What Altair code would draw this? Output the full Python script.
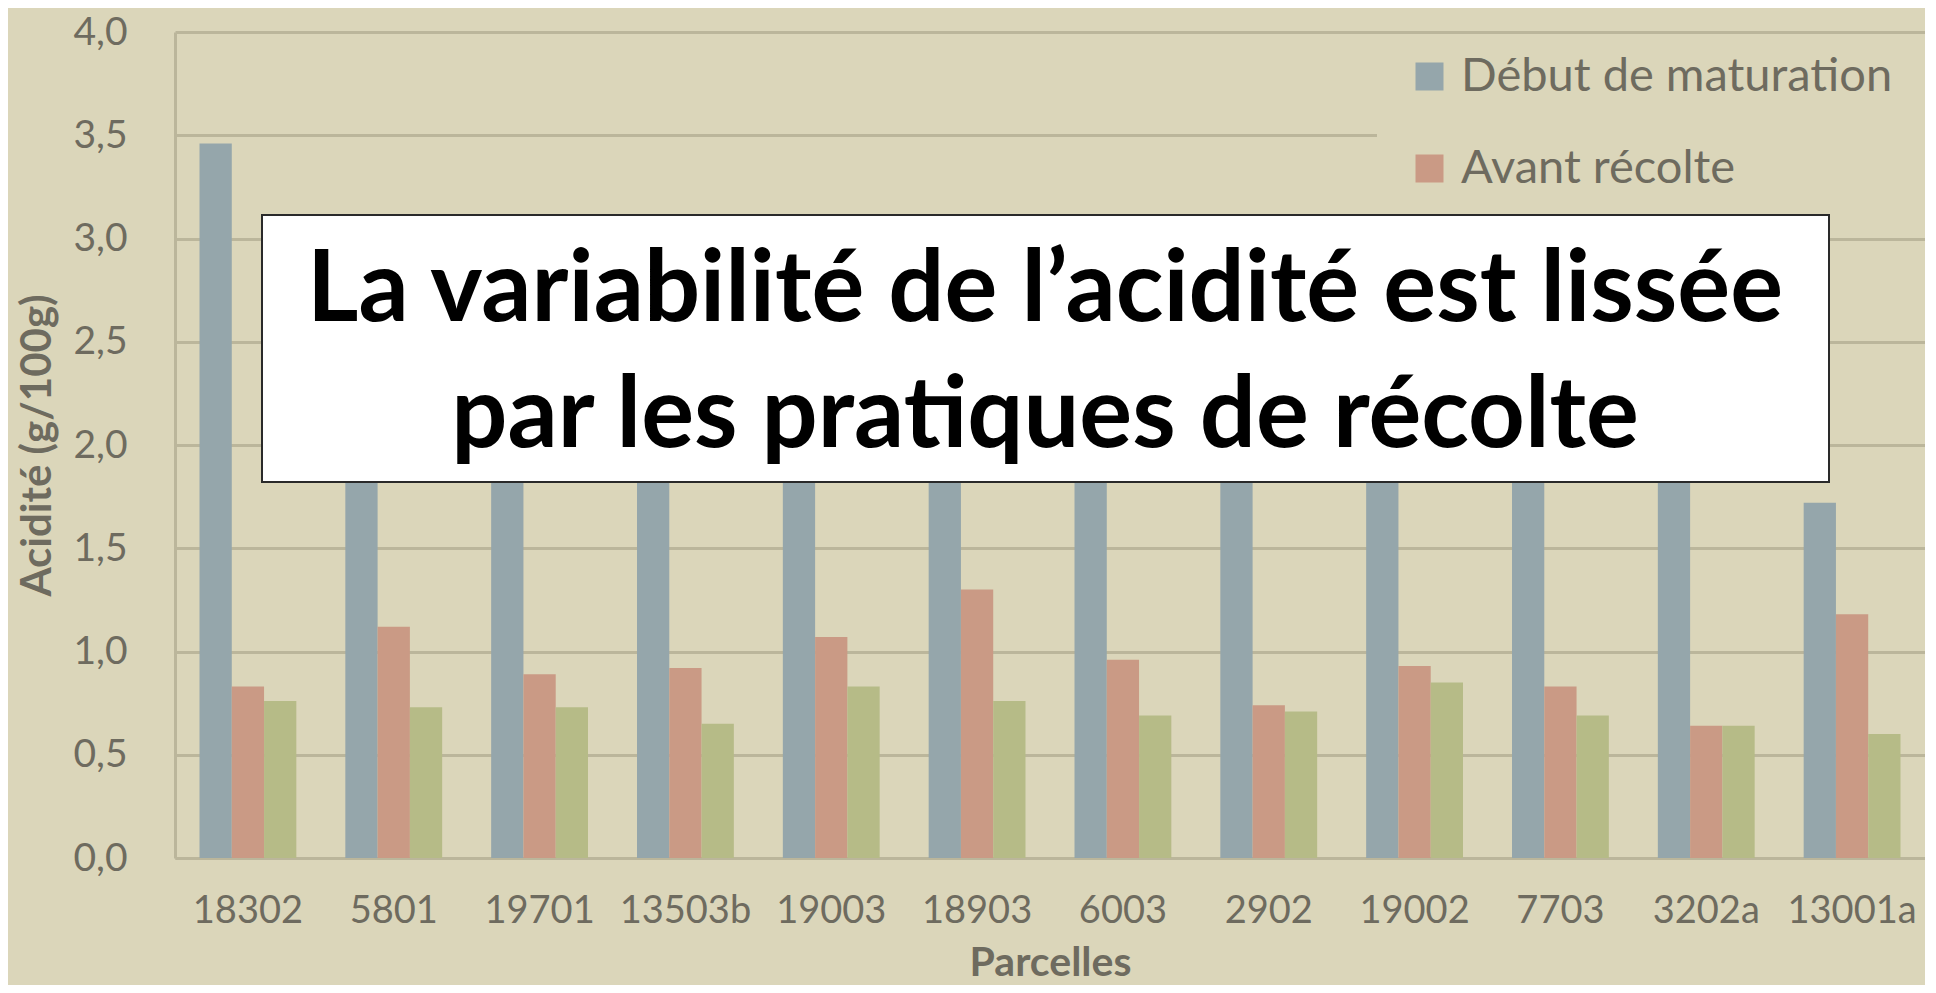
import altair as alt
import pandas as pd

parcelles = ["18302", "5801", "19701", "13503b", "19003", "18903", "6003", "2902", "19002", "7703", "3202a", "13001a"]
series = ["Début de maturation", "Avant récolte", "Récolte"]
debut = [3.46, 2.30, 2.10, 2.60, 2.40, 2.80, 2.20, 2.00, 2.50, 2.30, 2.70, 1.72]
avant = [0.83, 1.12, 0.89, 0.92, 1.07, 1.30, 0.96, 0.74, 0.93, 0.83, 0.64, 1.18]
recolte = [0.76, 0.73, 0.73, 0.65, 0.83, 0.76, 0.69, 0.71, 0.85, 0.69, 0.64, 0.60]
y_ticks = [0.0, 0.5, 1.0, 1.5, 2.0, 2.5, 3.0, 3.5, 4.0]
title_lines = ["La variabilité de l’acidité est lissée", "par les pratiques de récolte"]
colors = ["#95a6ab", "#ca9a85", "#b6bb87"]

rows = []
for i, p in enumerate(parcelles):
    for s, vals in zip(series, [debut, avant, recolte]):
        rows.append({"Parcelle": p, "Série": s, "Acidité": vals[i]})
df = pd.DataFrame(rows)

BG = "#dbd6ba"
GRID = "#bbb69b"
TXT = "#6e6b5f"
FONT = "Lato"

bars = alt.Chart(df).mark_bar().encode(
    x=alt.X("Parcelle:N", sort=parcelles,
            scale=alt.Scale(paddingInner=0.336, paddingOuter=0.168),
            axis=alt.Axis(title="Parcelles", labelAngle=0, labelFontSize=38, labelPadding=34,
                          labelColor=TXT, labelFont=FONT, ticks=False, domainColor=GRID, domainWidth=3,
                          titleFontSize=41, titleFont=FONT, titleColor=TXT, titleFontWeight="bold",
                          titlePadding=13)),
    xOffset=alt.XOffset("Série:N", sort=series, scale=alt.Scale(paddingInner=0, paddingOuter=0)),
    y=alt.Y("Acidité:Q", scale=alt.Scale(domain=[0, 4], nice=False),
            axis=alt.Axis(title="Acidité (g/100g)", values=y_ticks,
                          labelExpr="replace(format(datum.value, '.1f'), '.', ',')",
                          labelFontSize=39, labelPadding=48, labelColor=TXT, labelFont=FONT,
                          ticks=False, domainColor=GRID, domainWidth=3,
                          gridColor=GRID, gridWidth=3,
                          titleFontSize=42, titleFont=FONT, titleColor=TXT, titleFontWeight="bold",
                          titlePadding=13)),
    color=alt.Color("Série:N", sort=series,
                    scale=alt.Scale(domain=series, range=colors),
                    legend=alt.Legend(values=series[:2], title=None, orient="none",
                                      legendX=1231, legendY=21, padding=0,
                                      symbolType="square", symbolSize=784, symbolStrokeWidth=0,
                                      labelFontSize=47, labelFont=FONT, labelColor=TXT,
                                      labelOffset=8, rowPadding=44, labelLimit=700)),
)

legend_bg = alt.Chart(pd.DataFrame({"k": [0]})).mark_rect(color=BG).encode(
    x=alt.value(1202), x2=alt.value(1760), y=alt.value(10), y2=alt.value(183)
)

box = alt.Chart(pd.DataFrame({"k": [0]})).mark_rect(fill="white", stroke="#2a2a2a", strokeWidth=2).encode(
    x=alt.value(87), x2=alt.value(1654), y=alt.value(183), y2=alt.value(450)
)

title_text = alt.Chart(pd.DataFrame({"k": [0]})).mark_text(
    font=FONT, fontSize=99, fontWeight="bold", color="black", align="center",
    baseline="alphabetic", lineHeight=126
).encode(x=alt.value(870), y=alt.value(289), text=alt.value(title_lines))

chart = alt.layer(legend_bg, bars, box, title_text).properties(
    width=1750, height=826,
    autosize=alt.AutoSizeParams(type="none"),
    padding={"left": 167, "top": 24, "right": 0, "bottom": 127},
    background=BG,
).configure_view(stroke=None, fill=BG)

chart.save("out.html", embed_options={"renderer": "svg", "actions": False})
